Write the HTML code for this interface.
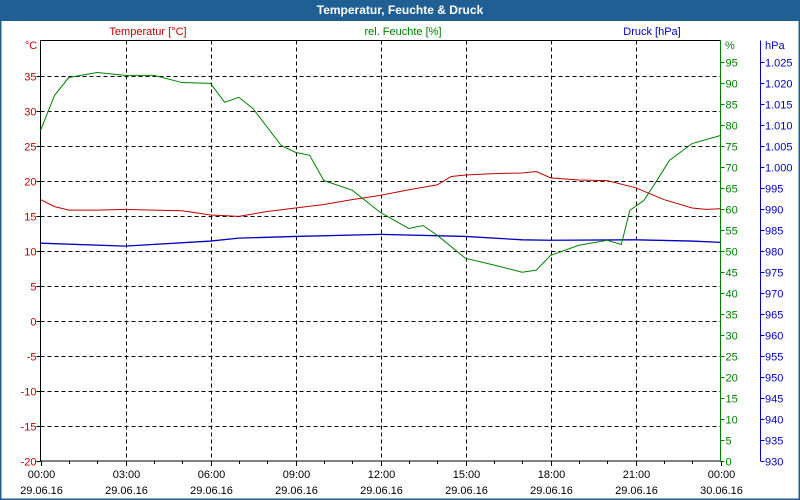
<!DOCTYPE html>
<html><head><meta charset="utf-8"><style>
body{margin:0;background:#fff;}
#wrap{position:relative;width:800px;height:500px;overflow:hidden;font-family:"Liberation Sans",sans-serif;}
</style></head><body>
<div id="wrap">
<svg id="chart" width="800" height="500" xmlns="http://www.w3.org/2000/svg" font-family="Liberation Sans, sans-serif" font-size="11">
<rect x="0.5" y="0.5" width="799" height="499" fill="#fff" stroke="#1f5f94" stroke-width="2"/>
<rect x="0" y="0" width="800" height="21" fill="#1f5f94"/>
<text x="400" y="14" text-anchor="middle" fill="#fff" font-weight="bold" font-size="12">Temperatur, Feuchte &amp; Druck</text>
<text x="148" y="35" text-anchor="middle" fill="#c00000">Temperatur [°C]</text>
<text x="403" y="35" text-anchor="middle" fill="#008000">rel. Feuchte [%]</text>
<text x="652" y="35" text-anchor="middle" fill="#0000c0">Druck [hPa]</text>
<text x="31" y="49" text-anchor="middle" fill="#c00000">°C</text>
<text x="725" y="49" fill="#008000">%</text>
<text x="765" y="49" fill="#0000c0">hPa</text>
<g id="grid"></g><g id="axes"></g><g id="series"></g>
</svg>
</div>
<script>
const hours=[0,0.5,1,2,3,4,5,6,7,8,9,10,11,12,13,14,14.5,15,16,17,17.5,18,19,20,21,22,23,23.5,24];
const temps=[17.3,16.3,15.8,15.8,15.9,15.8,15.7,15.1,14.9,15.6,16.1,16.6,17.3,17.9,18.7,19.4,20.6,20.8,21.0,21.1,21.3,20.4,20.1,20.0,19.0,17.3,16.1,15.9,16.0];
const humHours=[0,0.5,1,2,3,4,5,6,6.5,7,7.5,8.5,9,9.5,10,11,12,13,13.5,14,15,16,17,17.5,18,19,20,20.5,20.8,21.3,21.8,22.2,23,24];
const humidity=[78.6,87,91.2,92.4,91.7,91.7,90,89.8,85.3,86.5,83.8,75,73.4,72.7,66.7,64.4,59.1,55.3,56,53.7,48.2,46.6,44.9,45.4,48.9,51.3,52.5,51.5,59.6,62,67.2,71.5,75.5,77.4];
const presHours=[0,3,6,7,9,12,15,17,18,21,23,24];
const pressure=[981.8,981.1,982.3,983.0,983.4,983.9,983.4,982.6,982.5,982.6,982.3,982.0];
const tempTicks=[-20,-15,-10,-5,0,5,10,15,20,25,30,35];
const humTicks=[0,5,10,15,20,25,30,35,40,45,50,55,60,65,70,75,80,85,90,95];
const presTicks=[930,935,940,945,950,955,960,965,970,975,980,985,990,995,1000,1005,1010,1015,1020,1025];
const timeLabels=["00:00","03:00","06:00","09:00","12:00","15:00","18:00","21:00","00:00"];
const dateLabels=["29.06.16","29.06.16","29.06.16","29.06.16","29.06.16","29.06.16","29.06.16","29.06.16","30.06.16"];

const L=40.5,R=720.5,T=40.5,B=461;
const xS=h=>L+h*(R-L)/24;
const yT=v=>B-(v+20)*(B-T)/60;
const yH=v=>B-v*(B-T)/100;
const yP=v=>B-(v-930)*(B-T)/100;
const NS="http://www.w3.org/2000/svg";
function mk(tag,attrs,parent,txt){const e=document.createElementNS(NS,tag);for(const k in attrs)e.setAttribute(k,attrs[k]);if(txt!==undefined)e.textContent=txt;parent.appendChild(e);return e;}
const grid=document.getElementById('grid'),axes=document.getElementById('axes'),series=document.getElementById('series');

tempTicks.forEach(v=>{const y=Math.round(yT(v))+0.5;
 if(v>-20){const g=mk('line',{x1:L,x2:R,y1:y,y2:y,stroke:'#000','stroke-dasharray':'4,3'},grid);
 
 }
 mk('line',{x1:L-4,x2:L,y1:y,y2:y,stroke:'#000'},axes);
 const t=mk('text',{x:L-4,y:y+4,'text-anchor':'end',fill:'#c00000'},axes,v);
 
 });
humTicks.forEach(v=>{const y=Math.round(yH(v))+0.5;
 mk('line',{x1:R,x2:R+4,y1:y,y2:y,stroke:'#008000'},axes);
 const t=mk('text',{x:R+5,y:y+4,fill:'#008000'},axes,v);
 
 });
presTicks.forEach(v=>{const y=Math.round(yP(v))+0.5;
 mk('line',{x1:760.5,x2:764.5,y1:y,y2:y,stroke:'#0000c0'},axes);
 const t=mk('text',{x:765,y:y+4,fill:'#0000c0'},axes,v>=1000?(v/1000).toFixed(3):v);
 
 });
for(let h=0;h<=24;h++){const x=Math.round(xS(h))+0.5;
 if(h%3==0){ if(h>0&&h<24){const g=mk('line',{x1:x,x2:x,y1:T,y2:B,stroke:'#000','stroke-dasharray':'4,3'},grid);
  
  }
  mk('line',{x1:x,x2:x,y1:B,y2:B+5,stroke:'#000'},axes);
  const i=h/3;
  const t1=mk('text',{x:x,y:478,'text-anchor':'middle',fill:'#000'},axes,timeLabels[i]);
  
  
  const t2=mk('text',{x:x,y:494,'text-anchor':'middle',fill:'#000'},axes,dateLabels[i]);
  
  
 } else mk('line',{x1:x,x2:x,y1:B,y2:B+3,stroke:'#000'},axes);}
const ax1=mk('polyline',{points:`${L},${T} ${L},${B} ${R},${B}`,fill:'none',stroke:'#000'},axes);


const tl=mk('line',{x1:L,x2:R,y1:T,y2:T,stroke:'#000'},axes);


const ax2=mk('line',{x1:R,x2:R,y1:T,y2:B,stroke:'#008000'},axes);


const ax3=mk('line',{x1:760.5,x2:760.5,y1:T,y2:B,stroke:'#0000c0'},axes);



const p1=mk('polyline',{points:presHours.map((h,i)=>xS(h)+','+yP(pressure[i])).join(' '),fill:'none',stroke:'#0000c0','stroke-width':1.3},series);


const p2=mk('polyline',{points:hours.map((h,i)=>xS(h)+','+yT(temps[i])).join(' '),fill:'none',stroke:'#c00000','stroke-width':1},series);


const p3=mk('polyline',{points:humHours.map((h,i)=>xS(h)+','+yH(humidity[i])).join(' '),fill:'none',stroke:'#008000','stroke-width':1},series);


</script>
</body></html>
